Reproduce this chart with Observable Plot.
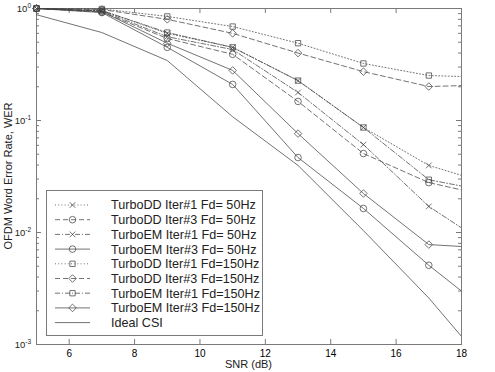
<!DOCTYPE html>
<html>
<head>
<meta charset="utf-8">
<script src="https://cdn.jsdelivr.net/npm/d3@7"></script>
<script src="https://cdn.jsdelivr.net/npm/@observablehq/plot@0.6"></script>
<style>
  html, body { margin: 0; padding: 0; background: #fff; }
  #chart { width: 495px; height: 372px; }
  svg { font-family: "Liberation Sans", Arial, Helvetica, sans-serif; }
</style>
</head>
<body>
<div id="chart"></div>
<script>
// ---- data ----
const snr = [5, 7, 9, 11, 13, 15, 17, 18];
const ddIter1_50  = [1, 0.96, 0.60, 0.45, 0.227, 0.0866, 0.0397, 0.0324];
const ddIter3_50  = [1, 0.93, 0.54, 0.39, 0.148, 0.0507, 0.0279, 0.024];
const emIter1_50  = [1, 0.95, 0.56, 0.43, 0.178, 0.0609, 0.0171, 0.011];
const emIter3_50  = [1, 0.92, 0.45, 0.21, 0.0467, 0.0164, 0.0051, 0.0030];
const ddIter1_150 = [1, 0.99, 0.85, 0.69, 0.49, 0.323, 0.252, 0.247];
const ddIter3_150 = [1, 0.98, 0.80, 0.60, 0.40, 0.273, 0.201, 0.205];
const emIter1_150 = [1, 0.96, 0.61, 0.45, 0.227, 0.0866, 0.0296, 0.026];
const emIter3_150 = [1, 0.94, 0.49, 0.28, 0.0764, 0.0223, 0.0078, 0.0075];
const idealCSI    = [0.88, 0.61, 0.343, 0.108, 0.0397, 0.0104, 0.0026, 0.00118];
const markedPoints = 7; // markers drawn on the first 7 SNR points

const seriesNames = [
  "TurboDD Iter#1 Fd= 50Hz", "TurboDD Iter#3 Fd= 50Hz",
  "TurboEM Iter#1 Fd= 50Hz", "TurboEM Iter#3 Fd= 50Hz",
  "TurboDD Iter#1 Fd=150Hz", "TurboDD Iter#3 Fd=150Hz",
  "TurboEM Iter#1 Fd=150Hz", "TurboEM Iter#3 Fd=150Hz",
  "Ideal CSI"
];
const seriesValues = [ddIter1_50, ddIter3_50, emIter1_50, emIter3_50,
  ddIter1_150, ddIter3_150, emIter1_150, emIter3_150, idealCSI];

const xTicks = [6, 8, 10, 12, 14, 16, 18];
const yMajor = [1e-3, 1e-2, 1e-1, 1];
const yLabels = [["10", "-3"], ["10", "-2"], ["10", "-1"], ["10", "0"]];

// ---- styles ----
const DOT = "1,2.2", DASH = "5,3", DASHDOT = "5,2,1,2", SOLID = null;
const dashes  = [DOT, DASH, DASHDOT, SOLID, DOT, DASH, DASHDOT, SOLID, SOLID];
const symbols = ["times", "circle", "times", "circle", "square2", "diamond2", "square2", "diamond2", null];
const d3Symbols = {times: d3.symbolTimes, circle: d3.symbolCircle, square2: d3.symbolSquare2, diamond2: d3.symbolDiamond2};
const symR = {times: 2.7, circle: 3.3, square2: 3.4, diamond2: 3.4};
const INK = "#444";
const FRAME = "#7a7a7a";

const rows = [];
seriesNames.forEach((name, s) => {
  seriesValues[s].forEach((v, i) => rows.push({series: name, s, snr: snr[i], wer: v, marked: i < markedPoints}));
});

const W = 495, H = 372, mL = 36, mR = 34, mT = 8, mB = 28;
const fW = W - mL - mR, fH = H - mT - mB;

const yMinor = [];
[1e-3, 1e-2, 1e-1].forEach(dec => { for (let k = 2; k <= 9; k++) yMinor.push(dec * k); });

const marks = [
  Plot.frame({stroke: FRAME, strokeWidth: 1}),
  // inward ticks (MATLAB style) on all sides
  Plot.ruleX(xTicks, {x: d => d, insetTop: fH - 5, stroke: FRAME}),
  Plot.ruleX(xTicks, {x: d => d, insetBottom: fH - 5, stroke: FRAME}),
  Plot.ruleY(yMajor, {y: d => d, insetRight: fW - 5, stroke: FRAME}),
  Plot.ruleY(yMajor, {y: d => d, insetLeft: fW - 5, stroke: FRAME}),
  Plot.ruleY(yMinor, {y: d => d, insetRight: fW - 3, stroke: FRAME}),
  Plot.ruleY(yMinor, {y: d => d, insetLeft: fW - 3, stroke: FRAME}),
  Plot.axisX({ticks: xTicks, tickSize: 0, tickPadding: 5, fontSize: 10, label: null, tickFormat: d => d}),
  Plot.axisY({ticks: yMajor, tickSize: 0, label: null, tickFormat: () => ""})
];
seriesNames.forEach((name, s) => {
  const data = rows.filter(r => r.s === s);
  marks.push(Plot.line(data, {x: "snr", y: "wer", stroke: INK, strokeWidth: 0.75,
    strokeDasharray: dashes[s] || undefined, clip: true}));
  if (symbols[s]) {
    marks.push(Plot.dot(data.filter(r => r.marked), {x: "snr", y: "wer", symbol: () => symbols[s],
      r: symR[symbols[s]], stroke: INK, strokeWidth: 0.75, fill: "none"}));
  }
});

const plot = Plot.plot({
  width: W, height: H, marginLeft: mL, marginRight: mR, marginTop: mT, marginBottom: mB,
  style: {fontFamily: '"Liberation Sans", Arial, sans-serif', background: "#fff"},
  x: {domain: [5, 18]},
  y: {type: "log", domain: [1e-3, 1]},
  symbol: {type: "identity"},
  marks
});
document.getElementById("chart").appendChild(plot);

// ---- extra text and legend drawn with d3 using Plot's scales ----
const svg = d3.select(plot);
const yS = plot.scale("y");
const g = svg.append("g").attr("fill", "#222").attr("text-anchor", "middle");
yMajor.forEach((v, i) => {
  const y = yS.apply(v);
  const t = g.append("text").attr("x", 31).attr("y", y + 3.5).attr("text-anchor", "end")
    .attr("font-size", 9.5);
  t.append("tspan").text(yLabels[i][0]);
  t.append("tspan").attr("dy", -4).attr("font-size", 6.5).text(yLabels[i][1]);
});
g.append("text").attr("x", mL + fW / 2).attr("y", 368).attr("font-size", 11).text("SNR (dB)");
g.append("text").attr("transform", `translate(12,${mT + fH / 2}) rotate(-90)`)
  .attr("font-size", 11).text("OFDM Word Error Rate, WER");

// legend
const lg = svg.append("g").attr("text-anchor", "start");
lg.append("rect").attr("x", 46.5).attr("y", 190.5).attr("width", 216).attr("height", 145)
  .attr("fill", "#fff").attr("stroke", FRAME);
seriesNames.forEach((name, s) => {
  const y = 205 + s * 14.7;
  lg.append("line").attr("x1", 55).attr("x2", 90).attr("y1", y).attr("y2", y)
    .attr("stroke", INK).attr("stroke-width", 0.75).attr("stroke-dasharray", dashes[s]);
  if (symbols[s]) {
    const r = symR[symbols[s]];
    lg.append("path").attr("transform", `translate(72.5,${y})`)
      .attr("d", d3.symbol(d3Symbols[symbols[s]], Math.PI * r * r)())
      .attr("fill", "none").attr("stroke", INK).attr("stroke-width", 0.75);
  }
  lg.append("text").attr("x", 111).attr("y", y + 4.4).attr("font-size", 12.6)
    .attr("fill", "#222").text(name);
});
</script>
</body>
</html>
